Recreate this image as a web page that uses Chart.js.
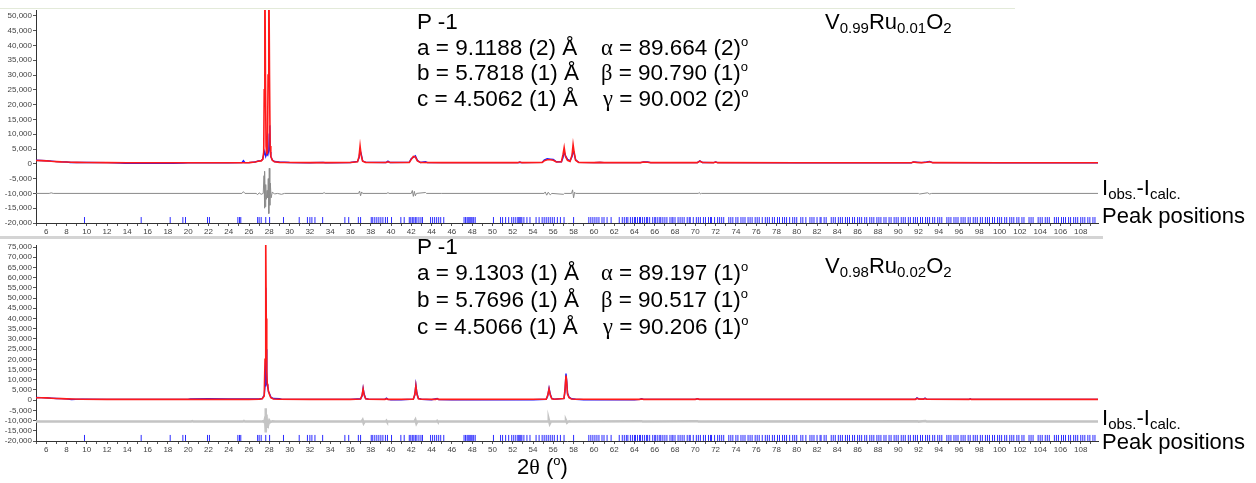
<!DOCTYPE html>
<html><head><meta charset="utf-8">
<script src="https://cdn.jsdelivr.net/npm/chart.js@4.4.1/dist/chart.umd.min.js"></script>
<style>
html,body{margin:0;padding:0;background:#fff;}
#wrap{position:relative;width:1256px;height:483px;overflow:hidden;font-family:"Liberation Sans",Arial,sans-serif;color:#000;}
canvas{position:absolute;left:0;}
.t{position:absolute;font-size:22px;line-height:22px;white-space:nowrap;}
.p{font-size:22.5px;}
.g{font-family:"Liberation Serif",serif;}
sub{font-size:15px;vertical-align:-4px;line-height:0;}
sup{font-size:13px;vertical-align:9px;line-height:0;}
.sep{position:absolute;left:0;background:#d4d4d4;}
</style></head>
<body><div id="wrap">
<div class="sep" style="top:8px;height:1px;width:1015px;background:#e3ead9"></div>
<div class="sep" style="top:236px;height:3px;width:1103px;"></div>
<div style="position:absolute;left:0;top:0;width:1256px;height:237px"><canvas id="c1" width="1256" height="237"></canvas></div>
<div style="position:absolute;left:0;top:239px;width:1256px;height:244px"><canvas id="c2" width="1256" height="244"></canvas></div>

<div class="t p" style="left:417px;top:11px">P -1</div>
<div class="t p" style="left:417px;top:37px">a = 9.1188 (2) Å</div>
<div class="t p" style="left:417px;top:62px">b = 5.7818 (1) Å</div>
<div class="t p" style="left:417px;top:88px">c = 4.5062 (1) Å</div>
<div class="t p" style="left:601px;top:37px"><span class="g">α</span> = 89.664 (2)<sup>o</sup></div>
<div class="t p" style="left:601px;top:62px"><span class="g">β</span> = 90.790 (1)<sup>o</sup></div>
<div class="t p" style="left:603px;top:88px"><span class="g">γ</span> = 90.002 (2)<sup>o</sup></div>
<div class="t" style="left:825px;top:11px">V<sub>0.99</sub>Ru<sub>0.01</sub>O<sub>2</sub></div>

<div class="t p" style="left:417px;top:236px">P -1</div>
<div class="t p" style="left:417px;top:262px">a = 9.1303 (1) Å</div>
<div class="t p" style="left:417px;top:289px">b = 5.7696 (1) Å</div>
<div class="t p" style="left:417px;top:316px">c = 4.5066 (1) Å</div>
<div class="t p" style="left:601px;top:262px"><span class="g">α</span> = 89.197 (1)<sup>o</sup></div>
<div class="t p" style="left:601px;top:289px"><span class="g">β</span> = 90.517 (1)<sup>o</sup></div>
<div class="t p" style="left:603px;top:316px"><span class="g">γ</span> = 90.206 (1)<sup>o</sup></div>
<div class="t" style="left:825px;top:255px">V<sub>0.98</sub>Ru<sub>0.02</sub>O<sub>2</sub></div>

<div class="t" style="left:1102px;top:177px">I<sub>obs.</sub>-I<sub>calc.</sub></div>
<div class="t" style="left:1102px;top:205px">Peak positions</div>
<div class="t" style="left:1102px;top:407px">I<sub>obs.</sub>-I<sub>calc.</sub></div>
<div class="t" style="left:1102px;top:431px">Peak positions</div>
<div class="t" style="left:517px;top:456px">2<span class="g">θ</span> (<sup>o</sup>)</div>
</div>
<script>
// ---------- data (2θ in degrees, intensity in counts) ----------
const calcTop = [[5.0,1150],[5.5,1100],[6.0,1000],[6.5,850],[7.0,750],[7.5,650],[8.0,600],[8.5,550],[9.0,500],[10,450],[12,400],[14,380],[16,370],[18,360],[20,360],[22,360],[24,370],[25,380],[26,400],[26.6,600],[26.9,900],[27.2,1000],[27.35,1500],[27.45,4000],[27.5,25000],[27.56,70000],[27.62,30000],[27.68,6000],[27.75,3500],[27.82,3800],[27.88,30000],[27.95,70000],[28.02,30000],[28.08,6000],[28.15,2500],[28.3,1200],[28.5,700],[29.0,500],[30,450],[32,420],[34,420],[36,450],[36.7,700],[36.85,2500],[36.95,6000],[37.05,3000],[37.2,900],[37.5,500],[39.5,450],[39.7,700],[39.9,450],[41.8,500],[42.0,1500],[42.2,2500],[42.4,2300],[42.6,1000],[42.9,450],[45,400],[50,400],[52.5,400],[52.7,600],[52.9,400],[54.9,500],[55.1,1000],[55.4,1400],[55.7,1400],[56.0,1200],[56.3,600],[56.8,700],[56.95,3000],[57.07,5500],[57.2,2500],[57.4,1200],[57.65,800],[57.85,3000],[57.95,6500],[58.05,4000],[58.2,1200],[58.5,500],[60,400],[60.6,500],[61.0,400],[64.6,400],[64.9,600],[65.3,550],[65.6,400],[70.2,400],[70.45,900],[70.7,450],[71.8,400],[72.0,600],[72.2,400],[80,350],[91.3,350],[91.5,600],[91.8,500],[92.3,400],[92.8,550],[93.1,700],[93.4,400],[100,350],[109.7,350]];
const obsTop = [[5.0,1200],[5.5,1150],[6.0,1050],[6.3,1000],[6.6,900],[7.0,750],[7.5,650],[8.0,600],[8.4,450],[8.8,450],[9.0,500],[10,450],[12,400],[13.3,300],[13.8,150],[14.5,200],[15.5,150],[16.5,200],[17.5,150],[18.5,200],[19.5,250],[20,350],[24,370],[25.3,400],[25.45,1100],[25.6,400],[26,400],[26.6,600],[26.9,1000],[27.2,1100],[27.35,1500],[27.45,3000],[27.55,4200],[27.65,2500],[27.75,3500],[27.85,3000],[27.95,4500],[28.0,10000],[28.05,13000],[28.1,4000],[28.15,2500],[28.3,1300],[28.5,800],[29.0,600],[30,450],[32,380],[33.3,500],[33.5,380],[36,450],[36.7,800],[36.85,2000],[36.95,4500],[37.05,3500],[37.2,1000],[37.5,500],[39.5,450],[39.7,900],[39.9,450],[41.8,500],[42.0,1800],[42.2,2200],[42.4,2700],[42.6,1200],[42.9,450],[43.4,700],[43.6,400],[45,400],[50,400],[52.5,400],[52.7,550],[52.9,400],[54.9,500],[55.1,1300],[55.4,1700],[55.7,1600],[56.0,1500],[56.3,700],[56.8,700],[56.95,2000],[57.07,4000],[57.2,2800],[57.4,1500],[57.65,1000],[57.85,2500],[57.95,4500],[58.05,3500],[58.2,1400],[58.5,500],[60,400],[60.6,500],[61.0,400],[64.6,400],[64.9,650],[65.3,600],[65.6,400],[70.2,400],[70.45,1000],[70.7,450],[71.8,400],[72.0,650],[72.2,400],[80,350],[91.3,350],[91.5,650],[91.8,550],[92.3,400],[92.8,600],[93.1,800],[93.4,400],[100,350],[109.7,350]];
const diffTop = [[5,-10000],[6.3,-10000],[6.5,-9800],[6.7,-10000],[25.3,-10000],[25.45,-9400],[25.6,-10000],[26.7,-10000],[26.85,-10400],[27.0,-9800],[27.2,-10300],[27.4,-10000],[27.48,-4000],[27.52,-15000],[27.56,-2500],[27.6,-14500],[27.65,-7000],[27.7,-12000],[27.78,-9000],[27.85,-11500],[27.9,-5000],[27.95,-16800],[28.0,-1500],[28.05,-14000],[28.1,-6500],[28.18,-11500],[28.3,-9500],[28.5,-10200],[28.8,-10000],[29.2,-10300],[29.5,-10000],[33.3,-10000],[33.4,-9700],[33.5,-10000],[36.8,-10000],[36.9,-9200],[37.0,-10800],[37.1,-9500],[37.2,-10000],[39.6,-10000],[39.7,-9700],[39.8,-10000],[42.0,-10000],[42.1,-9000],[42.2,-11000],[42.3,-9300],[42.4,-10800],[42.5,-10000],[43.4,-9700],[43.5,-10000],[45,-10000],[55.1,-10000],[55.2,-9500],[55.35,-10600],[55.5,-9600],[55.7,-10500],[55.85,-10000],[57.0,-10300],[57.1,-10000],[57.8,-10000],[57.9,-8800],[58.0,-11500],[58.1,-9600],[58.2,-10000],[70.3,-10000],[70.4,-9700],[70.5,-10200],[70.6,-10000],[92.0,-10000],[92.1,-10200],[92.9,-9800],[93.1,-10200],[93.3,-10000],[109.7,-10000]];

const calcBottom = [[5,1200],[5.5,1150],[6,1100],[6.5,950],[7,850],[7.5,750],[8,650],[8.7,550],[9.5,450],[12,400],[16,380],[20,380],[24,380],[26,400],[27.0,500],[27.3,700],[27.5,2000],[27.58,20000],[27.65,78000],[27.7,40000],[27.75,14000],[27.8,8000],[27.85,6500],[27.92,4500],[28.0,3000],[28.15,1200],[28.4,600],[29,450],[32,400],[36,400],[37.0,600],[37.15,2500],[37.25,5500],[37.35,2500],[37.5,700],[37.8,450],[39.4,400],[39.55,700],[39.7,400],[42.2,500],[42.35,3000],[42.45,7000],[42.55,3000],[42.7,700],[43,450],[44.4,400],[44.55,700],[44.7,400],[55.3,450],[55.45,2500],[55.58,5500],[55.7,2500],[55.85,700],[56.1,450],[57.05,800],[57.15,5000],[57.25,12000],[57.32,9000],[57.4,3000],[57.55,1200],[57.8,600],[58.2,450],[64.5,400],[64.7,600],[64.9,400],[70.0,400],[70.2,650],[70.4,400],[91.7,400],[91.85,900],[92.0,600],[92.2,500],[92.5,500],[92.65,800],[92.8,450],[97,400],[97.1,550],[97.2,400],[109.7,380]];
const obsBottom = [[5,1300],[5.5,1250],[6,1200],[6.5,1000],[7,850],[7.5,750],[8,650],[8.5,350],[8.9,400],[9.5,450],[12,400],[16,380],[20,380],[20.2,650],[22,700],[24,650],[26,600],[27.0,600],[27.3,800],[27.5,2500],[27.58,7000],[27.65,55000],[27.7,25000],[27.75,9000],[27.8,7500],[27.85,7000],[27.92,4000],[28.0,3500],[28.15,1500],[28.4,800],[29,700],[29.2,450],[32,400],[36,400],[37.0,700],[37.15,2000],[37.25,5800],[37.35,3000],[37.5,800],[37.8,450],[39.4,400],[39.55,1000],[39.7,400],[40,200],[41,200],[42.2,500],[42.35,2500],[42.45,7500],[42.55,3500],[42.7,800],[43,450],[44,200],[44.55,800],[44.7,300],[46,200],[50,150],[54,200],[55.3,450],[55.45,2000],[55.58,5800],[55.7,3000],[55.85,800],[56.1,450],[57.05,900],[57.15,4000],[57.25,13000],[57.32,9500],[57.4,3500],[57.55,1500],[57.8,700],[58.2,450],[59,200],[64,200],[64.5,400],[64.7,700],[64.9,400],[70.0,400],[70.2,750],[70.4,400],[91.7,400],[91.85,1100],[92.0,700],[92.2,500],[92.5,500],[92.65,1000],[92.8,450],[97,400],[97.1,650],[97.2,400],[109.7,380]];
const diffBottom = [[5,-10500],[20.3,-10500],[20.4,-10300],[20.5,-10500],[25.4,-10500],[25.5,-10200],[25.6,-10500],[27.2,-10500],[27.4,-10300],[27.5,-10700],[27.58,-9000],[27.63,-4000],[27.67,-15800],[27.72,-7000],[27.78,-13000],[27.85,-9500],[27.92,-11500],[28.0,-10000],[28.1,-10800],[28.3,-10300],[28.6,-10500],[37.1,-10500],[37.2,-9700],[37.3,-11300],[37.4,-10500],[39.5,-10500],[39.55,-10100],[39.6,-10500],[42.3,-10500],[42.4,-9600],[42.5,-11400],[42.6,-10500],[44.5,-10500],[44.55,-10200],[44.6,-10500],[55.5,-10500],[55.55,-9500],[55.65,-11500],[55.75,-10500],[57.2,-10500],[57.25,-9900],[57.35,-11000],[57.45,-10500],[57.6,-10300],[57.7,-10500],[64.7,-10300],[64.8,-10500],[70.2,-10300],[70.3,-10500],[91.9,-10300],[92.0,-10500],[92.7,-10200],[92.8,-10500],[109.7,-10500]];

const peakPositions = [9.78,15.37,18.23,19.48,19.74,21.91,22.1,24.9,25.06,25.19,26.85,27.0,27.2,27.65,28.03,29.4,30.95,31.76,32.0,32.2,32.5,33.26,35.45,35.83,36.78,37.0,38.05,38.2,38.4,38.6,38.8,39.0,39.2,39.45,39.65,40.05,40.97,41.3,41.8,41.95,42.1,42.25,42.4,42.55,42.75,42.95,43.1,43.9,44.1,44.3,44.5,44.7,44.9,45.2,47.2,47.35,47.5,47.6,47.7,47.8,47.9,48.0,48.15,48.3,50.1,50.8,51.0,51.3,51.6,51.9,52.1,52.3,52.5,52.6,52.7,52.8,52.9,53.1,53.4,53.7,54.3,54.6,54.9,55.1,55.3,55.5,55.7,55.9,56.1,56.4,56.7,57.06,58.0,59.5,59.7,59.9,60.1,60.3,60.5,60.8,61.0,61.3,61.7,62.5,62.8,63.0,63.2,63.35,63.6,63.8,64.0,64.1,64.3,64.5,64.6,64.8,65.0,65.2,65.3,65.5,65.8,66.0,66.1,66.3,66.5,66.6,66.8,67.0,67.2,67.5,67.7,67.8,68.0,68.3,68.5,68.7,68.9,69.2,69.4,69.5,69.8,70.1,70.3,70.5,70.8,71.0,71.3,71.5,71.6,71.9,72.2,72.4,72.6,72.8,73.3,73.5,73.7,74.0,74.2,74.5,74.7,74.9,75.2,75.4,75.6,75.9,76.1,76.3,76.6,76.9,77.1,77.3,77.6,77.8,78.1,78.3,78.6,78.8,79.0,79.3,79.6,79.8,80.0,80.4,80.6,80.9,81.3,81.5,81.7,82.0,82.3,82.4,82.7,82.9,83.4,83.6,83.8,84.1,84.3,84.5,84.8,85.0,85.2,85.5,85.7,86.0,86.2,86.4,86.7,86.9,87.2,87.4,87.6,87.9,88.1,88.3,88.6,88.8,89.1,89.3,89.6,89.8,90.0,90.3,90.5,90.7,91.0,91.2,91.5,91.7,91.9,92.2,92.4,92.7,92.9,93.1,93.4,93.6,93.9,94.1,94.3,94.8,95.0,95.2,95.5,95.7,95.9,96.2,96.4,96.6,96.9,97.1,97.4,97.6,97.8,98.1,98.3,98.6,98.8,99.0,99.3,99.5,99.8,100.0,100.2,100.5,100.7,101.0,101.2,101.4,101.7,101.9,102.2,102.4,102.9,103.1,103.3,103.8,104.0,104.2,104.5,104.7,104.9,105.4,105.6,105.8,106.1,106.3,106.5,106.8,107.0,107.3,107.5,107.7,108.0,108.2,108.4,108.7,108.9,109.2,109.4];

const xRange = [5, 109.7];
const xTicks = [5,6,7,8,9,10,11,12,13,14,15,16,17,18,19,20,21,22,23,24,25,26,27,28,29,30,31,32,33,34,35,36,37,38,39,40,41,42,43,44,45,46,47,48,49,50,51,52,53,54,55,56,57,58,59,60,61,62,63,64,65,66,67,68,69,70,71,72,73,74,75,76,77,78,79,80,81,82,83,84,85,86,87,88,89,90,91,92,93,94,95,96,97,98,99,100,101,102,103,104,105,106,107,108,109];
const yRangeTop = [-20000, 52000];
const yTicksTop = [-20000,-15000,-10000,-5000,0,5000,10000,15000,20000,25000,30000,35000,40000,45000,50000];
const yRangeBottom = [-20000, 76000];
const yTicksBottom = [-20000,-15000,-10000,-5000,0,5000,10000,15000,20000,25000,30000,35000,40000,45000,50000,55000,60000,65000,70000,75000];

// ---------- chart builder ----------
const pts = a => a.map(p => ({x: p[0], y: p[1]}));

function makeChart(id, calc, obs, diff, yr, yTicks, peakLevel, diffStyle, lay) {
  const ctx = document.getElementById(id);
  return new Chart(ctx, {
    type: 'line',
    data: {
      datasets: [
        {data: pts(calc), borderColor: '#ff1a1a', borderWidth: 1.6, pointRadius: 0, tension: 0, order: 1},
        {data: pts(obs), borderColor: '#1a1aff', borderWidth: 1.4, pointRadius: 0, tension: 0, order: 2},
        {data: pts(diff), borderColor: diffStyle.color, borderWidth: diffStyle.width, pointRadius: 0, tension: 0, order: 3},
        {type: 'scatter', data: peakPositions.map(v => ({x: v, y: peakLevel})), pointStyle: 'line', rotation: 90,
         radius: 3, borderColor: '#2b2bff', borderWidth: 1, order: 4}
      ]
    },
    options: {
      animation: false, responsive: false, devicePixelRatio: 1,
      layout: {padding: {left: 0, right: 1256 - lay.right, top: lay.top, bottom: 0}},
      plugins: {legend: {display: false}, tooltip: {enabled: false}},
      scales: {
        x: {
          type: 'linear', min: xRange[0], max: xRange[1],
          afterFit: s => { s.height = lay.xh; },
          afterBuildTicks: s => { s.ticks = xTicks.map(v => ({value: v})); },
          grid: {drawOnChartArea: false, tickLength: 3, color: '#555'},
          border: {color: '#333'},
          ticks: {autoSkip: false, maxRotation: 0, padding: 1, color: '#444',
                  font: {family: 'Liberation Sans', size: 8},
                  callback: v => (v % 2 === 0) ? String(v) : ''}
        },
        y: {
          type: 'linear', min: yr[0], max: yr[1],
          afterFit: s => { s.width = 36; },
          afterBuildTicks: s => { s.ticks = yTicks.map(v => ({value: v})); },
          grid: {drawOnChartArea: false, tickLength: 3, color: '#555'},
          border: {color: '#333'},
          ticks: {autoSkip: false, padding: 1, color: '#444', font: {family: 'Liberation Sans', size: 8},
                  callback: v => Number(v).toLocaleString('en-US')}
        }
      }
    }
  });
}

makeChart('c1', calcTop, obsTop, diffTop, yRangeTop, yTicksTop, -19000, {color: '#8a8a8a', width: 1},
          {right: 1098, top: 10, xh: 14});
makeChart('c2', calcBottom, obsBottom, diffBottom, yRangeBottom, yTicksBottom, -18500, {color: '#c4c4c4', width: 2.5},
          {right: 1098, top: 6, xh: 42});
</script>
</body></html>
